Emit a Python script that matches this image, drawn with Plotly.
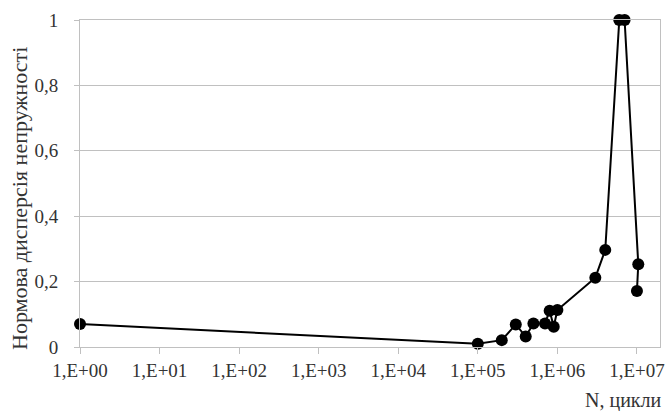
import plotly.graph_objects as go

n_cycles = [1, 1e5, 2e5, 3e5, 4e5, 5e5, 7e5, 8e5, 9e5, 1.0e6, 3e6, 4e6, 6e6, 7e6, 1.04e7, 1.0e7]
dispersion = [0.07, 0.01, 0.021, 0.069, 0.032, 0.072, 0.072, 0.111, 0.062, 0.113, 0.212, 0.297, 1.0, 1.0, 0.253, 0.171]

x_tickvals = [1, 1e1, 1e2, 1e3, 1e4, 1e5, 1e6, 1e7]
x_ticktext = ["1,E+00", "1,E+01", "1,E+02", "1,E+03", "1,E+04", "1,E+05", "1,E+06", "1,E+07"]
y_tickvals = [0, 0.2, 0.4, 0.6, 0.8, 1]
y_ticktext = ["0", "0,2", "0,4", "0,6", "0,8", "1"]

font_family = "Liberation Serif, serif"
grid = "#c0c0c0"
txt = "#333333"

W, H = 667, 411
L, R, T, B = 80, 7, 20, 64
pw = W - L - R
ph = H - T - B

fig = go.Figure()
fig.add_trace(go.Scatter(
    x=n_cycles, y=dispersion, mode="lines+markers",
    line=dict(color="black", width=2),
    marker=dict(color="black", size=12),
    cliponaxis=False, showlegend=False,
))

fig.update_layout(
    template="none",
    width=W, height=H,
    margin=dict(l=L, r=R, t=T, b=B, autoexpand=False),
    paper_bgcolor="white", plot_bgcolor="white",
    font=dict(family=font_family, size=19, color=txt),
    xaxis=dict(
        type="log", range=[0, 7.29],
        tickmode="array", tickvals=x_tickvals, ticktext=x_ticktext,
        showgrid=False, zeroline=False,
        showline=True, linecolor=grid, linewidth=1, mirror=True,
        ticks="outside", ticklen=6, tickcolor=grid, tickwidth=1,
        tickfont=dict(family=font_family, size=19, color=txt),
        automargin=False,
    ),
    yaxis=dict(
        range=[0, 1],
        tickmode="array", tickvals=y_tickvals, ticktext=y_ticktext,
        showgrid=True, gridcolor=grid, gridwidth=1, zeroline=False,
        showline=True, linecolor=grid, linewidth=1, mirror=True,
        ticks="outside", ticklen=5, tickcolor=grid, tickwidth=1,
        ticklabelstandoff=12,
        tickfont=dict(family=font_family, size=19, color=txt),
        automargin=False,
    ),
    annotations=[
        dict(text="Нормова дисперсія непружності", textangle=-90,
             xref="paper", yref="paper", x=(19 - L) / pw, y=(H - B - 199) / ph,
             xanchor="center", yanchor="middle", showarrow=False,
             font=dict(family=font_family, size=22, color=txt)),
        dict(text="N, цикли", xref="paper", yref="paper", x=(664 - L) / pw, y=(H - B - 400) / ph,
             xanchor="right", yanchor="middle", showarrow=False,
             font=dict(family=font_family, size=20, color=txt)),
    ],
)

fig.write_html("out.html", config={"displayModeBar": False},
               post_script="document.body.style.margin='0';")
